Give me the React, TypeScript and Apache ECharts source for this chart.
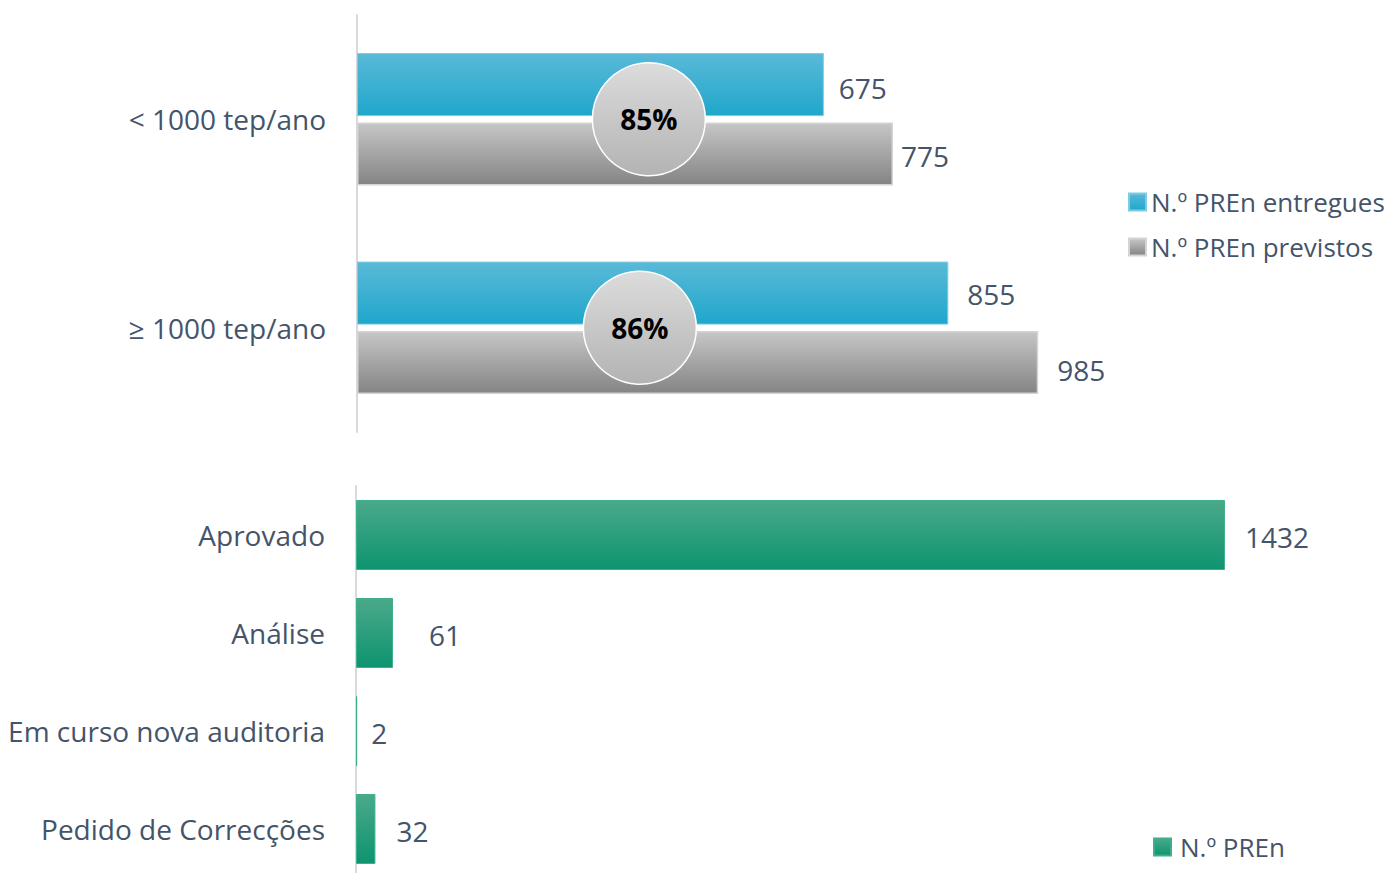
import React, { useEffect, useRef } from "react";
import * as echarts from "echarts";

const topCategories = ["< 1000 tep/ano", "≥ 1000 tep/ano"];
const delivered = [675, 855];
const planned = [775, 985];
const ratioLabels = ["85%", "86%"];
const ratioPosition = [422, 409];

const statusCategories = ["Aprovado", "Análise", "Em curso nova auditoria", "Pedido de Correcções"];
const statusValues = [1432, 61, 2, 32];

const FONT = "Open Sans";
const TEXT = "#44546a";

const grad = (a: string, b: string) =>
  new echarts.graphic.LinearGradient(0, 0, 0, 1, [
    { offset: 0, color: a },
    { offset: 1, color: b },
  ]);

export default function App() {
  const ref = useRef<HTMLDivElement>(null);
  useEffect(() => {
    if (!ref.current) return;
    const chart = echarts.init(ref.current, null, { renderer: "svg" });
    const topScale = 0.6916;
    const botScale = 0.6068;
    const statusDist = [20, 36, 14, 21];
    const deliveredDist = [15, 19];
    const plannedDist = [8, 19];
    const deliveredOff = [[0, 3], [0, 1]];
    const plannedOff = [[0, 2], [0, 8]];
    chart.setOption({
      animation: false,
      textStyle: { fontFamily: FONT },
      grid: [
        { left: 357, top: 15, height: 417, width: 1300 * topScale },
        { left: 356, top: 486, height: 392, width: 1500 * botScale },
      ],
      xAxis: [
        { type: "value", gridIndex: 0, min: 0, max: 1300, show: false },
        { type: "value", gridIndex: 1, min: 0, max: 1500, show: false },
      ],
      yAxis: [
        {
          type: "category",
          gridIndex: 0,
          inverse: true,
          data: topCategories,
          axisLine: { show: true, lineStyle: { color: "#d9d9d9", width: 2 } },
          axisTick: { show: false },
          axisLabel: { color: TEXT, fontSize: 28, margin: 31, fontFamily: FONT },
        },
        {
          type: "category",
          gridIndex: 1,
          inverse: true,
          data: statusCategories,
          axisLine: { show: true, lineStyle: { color: "#d9d9d9", width: 2 } },
          axisTick: { show: false },
          axisLabel: { color: TEXT, fontSize: 28, margin: 31, fontFamily: FONT },
        },
      ],
      legend: [
        {
          orient: "vertical",
          left: 1123,
          top: 184,
          itemGap: 19,
          itemWidth: 17,
          itemHeight: 17,
          icon: "rect",
          data: ["N.º PREn entregues", "N.º PREn previstos"],
          textStyle: { color: TEXT, fontSize: 26, fontFamily: FONT, padding: [0, 0, 0, 0] },
        },
        {
          left: 1148,
          top: 829,
          itemWidth: 17,
          itemHeight: 17,
          icon: "rect",
          data: ["N.º PREn"],
          textStyle: { color: TEXT, fontSize: 26, fontFamily: FONT, padding: [0, 0, 0, 4] },
        },
      ],
      series: [
        {
          name: "N.º PREn entregues",
          type: "bar",
          xAxisIndex: 0,
          yAxisIndex: 0,
          data: delivered.map((v, i) => ({
            value: v,
            label: { distance: deliveredDist[i], offset: deliveredOff[i] },
          })),
          barWidth: 63,
          barGap: "10%",
          itemStyle: { color: grad("#5ab9d8", "#1fa7cb"), borderColor: "#7fcbe3", borderWidth: 1 },
          label: { show: true, position: "right", color: TEXT, fontSize: 28, fontFamily: FONT },
        },
        {
          name: "N.º PREn previstos",
          type: "bar",
          xAxisIndex: 0,
          yAxisIndex: 0,
          data: planned.map((v, i) => ({
            value: v,
            label: { distance: plannedDist[i], offset: plannedOff[i] },
          })),
          barWidth: 63,
          itemStyle: { color: grad("#c6c6c6", "#848484"), borderColor: "#d4d4d4", borderWidth: 1.5 },
          label: { show: true, position: "right", color: TEXT, fontSize: 28, fontFamily: FONT },
        },
        {
          name: "ratio",
          type: "scatter",
          xAxisIndex: 0,
          yAxisIndex: 0,
          symbol: "circle",
          symbolSize: 113,
          z: 5,
          data: ratioPosition.map((x, i) => [x, i]),
          itemStyle: {
            color: grad("#dcdcdc", "#b3b3b3"),
            borderColor: "#ffffff",
            borderWidth: 1.5,
            opacity: 1,
          },
          label: {
            show: true,
            position: "inside",
            formatter: (p: any) => ratioLabels[p.dataIndex],
            color: "#000",
            fontSize: 28,
            fontWeight: "bold",
            fontFamily: FONT,
          },
          emphasis: { disabled: true },
        },
        {
          name: "N.º PREn",
          type: "bar",
          xAxisIndex: 1,
          yAxisIndex: 1,
          barWidth: 70,
          data: statusValues.map((v, i) => ({
            value: v,
            label: { distance: statusDist[i], offset: [0, 2] },
          })),
          itemStyle: { color: grad("#4aa98a", "#0e9470"), borderColor: "#3fae8a", borderWidth: 1 },
          label: { show: true, position: "right", color: TEXT, fontSize: 28, fontFamily: FONT },
        },
      ],
    });
    return () => chart.dispose();
  }, []);
  return (
    <div
      ref={ref}
      style={{ position: "fixed", left: 0, top: 0, width: 1388, height: 900, background: "#fff" }}
    />
  );
}
